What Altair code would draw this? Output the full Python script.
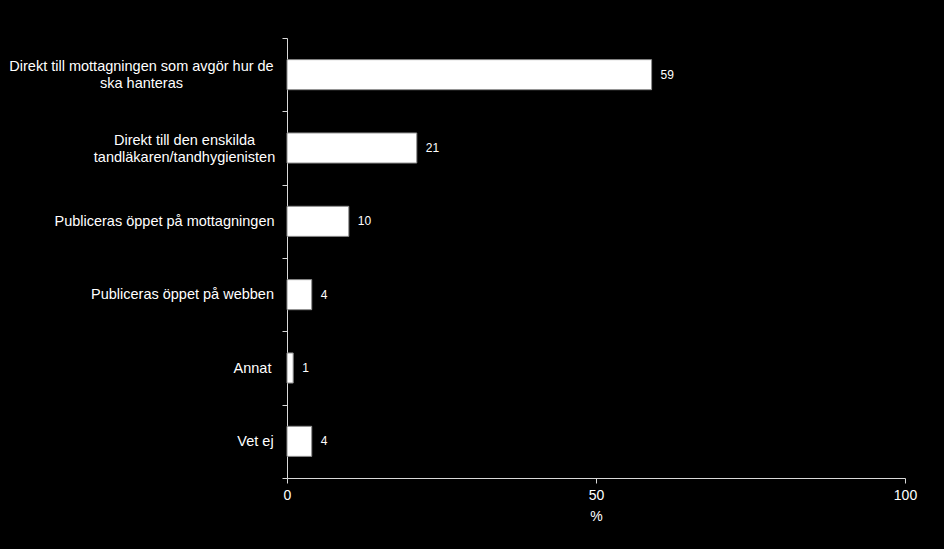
import altair as alt
import pandas as pd

categories = [
    "Direkt till mottagningen som avgör hur de|ska hanteras",
    "Direkt till den enskilda|tandläkaren/tandhygienisten",
    "Publiceras öppet på mottagningen",
    "Publiceras öppet på webben",
    "Annat",
    "Vet ej",
]
values = [59, 21, 10, 4, 1, 4]
# distance from tick end to label centre (labels are centred text blocks)
label_pad = [141, 98, 118, 100, 30, 27]

df = pd.DataFrame({"cat": categories, "val": values})

pad_cond = {
    "condition": [
        {"test": f"datum.value=={repr(c)}", "value": p}
        for c, p in zip(categories, label_pad)
    ],
    "value": 7,
}
offset_cond = {
    "condition": [
        {"test": f"datum.value=={repr(c)}", "value": -8}
        for c in categories if "|" in c
    ],
    "value": 0,
}

y_enc = alt.Y(
    "cat:N",
    sort=categories,
    scale=alt.Scale(paddingInner=0, paddingOuter=0),
    axis=alt.Axis(
        title=None,
        labelExpr="split(datum.label, '|')",
        labelAlign="center",
        labelPadding=pad_cond,
        labelOffset=offset_cond,
        labelColor="white",
        labelFont="Liberation Sans",
        labelFontSize=14.5,
        labelLineHeight=17,
        labelLimit=400,
        tickBand="extent",
        tickColor="#d9d9d9",
        tickSize=5,
        domainColor="#d9d9d9",
        grid=False,
    ),
)

x_enc = alt.X(
    "val:Q",
    scale=alt.Scale(domain=[0, 100]),
    axis=alt.Axis(
        title="%",
        values=[0, 50, 100],
        labelFlush=False,
        labelColor="white",
        labelFont="Liberation Sans",
        labelFontSize=14,
        labelPadding=5,
        titleColor="white",
        titleFont="Liberation Sans",
        titleFontSize=14,
        titleFontWeight="normal",
        titlePadding=7,
        tickColor="#d9d9d9",
        tickSize=5,
        domainColor="#d9d9d9",
        grid=False,
    ),
)

bars = alt.Chart(df).mark_bar(
    color="white", stroke="#8c8c8c", strokeWidth=1, height={"band": 0.41}
).encode(x=x_enc, y=y_enc)

text = alt.Chart(df).mark_text(
    align="left", dx=9, color="white", font="Liberation Sans", fontSize=12
).encode(x="val:Q", y=alt.Y("cat:N", sort=categories), text="val:Q")

chart = (
    alt.layer(bars, text)
    .properties(
        width=618,
        height=440,
        background="black",
        padding={"left": 287, "top": 38, "right": 39, "bottom": 71},
        autosize=alt.AutoSizeParams(type="none"),
    )
    .configure_view(stroke=None)
)

chart.save("out.html", embed_options={"renderer": "svg", "actions": False})
